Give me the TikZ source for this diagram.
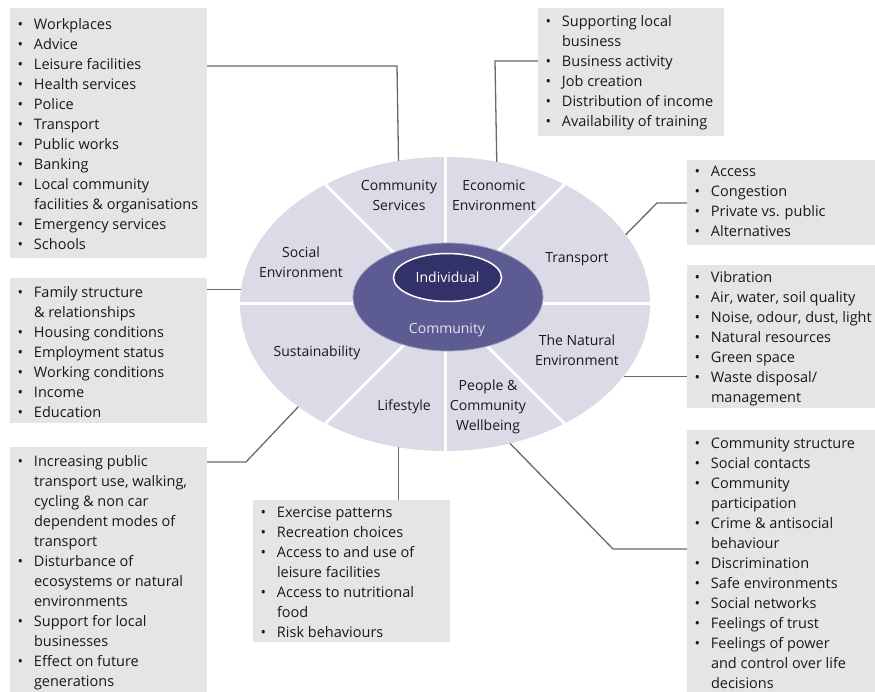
\documentclass[tikz,border=0pt]{standalone}
\usepackage{fontspec}
\setmainfont{Open Sans}
\usetikzlibrary{shapes.geometric}
\definecolor{boxgray}{RGB}{229,229,229}
\definecolor{ellc}{RGB}{219,219,231}
\definecolor{commc}{RGB}{92,92,146}
\definecolor{indc}{RGB}{50,50,104}
\definecolor{commtext}{RGB}{226,226,242}
\definecolor{connc}{RGB}{105,105,105}
\definecolor{textc}{RGB}{25,25,25}
\newcommand{\bitem}{\par\noindent\hangindent=24pt\hangafter=1\rule{0pt}{14pt}\makebox[24pt][l]{\hspace{7.5pt}\textbullet}}
\newcommand{\lbox}[4]{\makebox[#1pt][l]{\parbox[t][#2pt][t]{300pt}{\fontsize{14.5}{20}\selectfont\parskip=0pt\lineskiplimit=-20pt\lineskip=0pt\vspace*{\dimexpr#3pt-14pt\relax}#4}}}
\tikzset{
  listbox/.style={fill=boxgray, inner sep=0pt, outer sep=0pt, anchor=north west, text=textc},
  sector/.style={align=center, text=textc, font=\fontsize{14}{20}\selectfont, inner sep=0pt},
  conn/.style={draw=connc, line width=1.3pt},
}
\begin{document}
\begin{tikzpicture}[x=1pt,y=-1pt]
\useasboundingbox (0,0) rectangle (875,692);
\fill[white] (0,0) rectangle (875,692);

% central ellipses
\node[ellipse, minimum width=410pt, minimum height=294pt, fill=ellc, inner sep=0pt, outer sep=0pt] (big) at (445,304) {};
\foreach \a in {0,45,...,315} \draw[white, line width=3pt] (big.center) -- (big.\a);
\node[ellipse, minimum width=190pt, minimum height=108pt, fill=commc, draw=commc!60!white, line width=0.8pt, inner sep=0pt] (comm) at (448,297) {};
\node[ellipse, minimum width=108pt, minimum height=48pt, fill=indc, draw=white, line width=1.5pt, inner sep=0pt, text=white, font=\fontsize{14}{20}\selectfont] (ind) at (447.5,277.5) {Individual};
\node[text=commtext, font=\fontsize{14}{20}\selectfont, inner sep=0pt] (commlabel) at (447,330) {Community};

% sector labels
\node[sector] (s1) at (399,195) {Community\\Services};
\node[sector] (s2) at (494,195) {Economic\\Environment};
\node[sector] (s3) at (301,262) {Social\\Environment};
\node[sector] (s4) at (577,259) {Transport};
\node[sector] (s5) at (317,353) {Sustainability};
\node[sector] (s6) at (577,350) {The Natural\\Environment};
\node[sector] (s7) at (404,407) {Lifestyle};
\node[sector] (s8) at (488,407) {People \&\\Community\\Wellbeing};

% list boxes
\node[listbox] (A) at (10,8) {\lbox{197}{250}{21.5}{%
\bitem Workplaces
\bitem Advice
\bitem Leisure facilities
\bitem Health services
\bitem Police
\bitem Transport
\bitem Public works
\bitem Banking
\bitem Local community\\facilities \& organisations
\bitem Emergency services
\bitem Schools}};

\node[listbox] (B) at (538,8) {\lbox{186}{128}{19}{%
\bitem Supporting local\\business
\bitem Business activity
\bitem Job creation
\bitem Distribution of income
\bitem Availability of training}};

\node[listbox] (C) at (687,160) {\lbox{188}{85}{17}{%
\bitem Access
\bitem Congestion
\bitem Private vs. public
\bitem Alternatives}};

\node[listbox] (D) at (687,265) {\lbox{188}{143}{18}{%
\bitem Vibration
\bitem Air, water, soil quality
\bitem Noise, odour, dust, light
\bitem Natural resources
\bitem Green space
\bitem Waste disposal/\\management}};

\node[listbox] (E) at (687,430) {\lbox{188}{262}{18.5}{%
\bitem Community structure
\bitem Social contacts
\bitem Community\\participation
\bitem Crime \& antisocial\\behaviour
\bitem Discrimination
\bitem Safe environments
\bitem Social networks
\bitem Feelings of trust
\bitem Feelings of power\\and control over life\\decisions}};

\node[listbox] (F) at (10,278) {\lbox{197}{145}{19.5}{%
\bitem Family structure\\\& relationships
\bitem Housing conditions
\bitem Employment status
\bitem Working conditions
\bitem Income
\bitem Education}};

\node[listbox] (G) at (10,447) {\lbox{197}{245}{19.5}{%
\bitem Increasing public\\transport use, walking,\\cycling \& non car\\dependent modes of\\transport
\bitem Disturbance of\\ecosystems or natural\\environments
\bitem Support for local\\businesses
\bitem Effect on future\\generations}};

\node[listbox] (H) at (253,500) {\lbox{197}{142}{17.5}{%
\bitem Exercise patterns
\bitem Recreation choices
\bitem Access to and use of\\leisure facilities
\bitem Access to nutritional\\food
\bitem Risk behaviours}};

% connectors
\coordinate (a1) at (397,66);
\draw[conn] (A.east |- a1) -- (a1) -- (big.108.57);
\coordinate (b1) at (495,61);
\draw[conn] (B.west |- b1) -- (b1) -- (big.70.7);
\coordinate (c1) at (657,203);
\draw[conn] (big.21.6) -- (c1) -- (c1 -| C.west);
\draw[conn] (big.-22.3) -- (big.-22.3 -| D.west);
\coordinate (e1) at (613,549);
\draw[conn] (big.-65.7) -- (e1) -- (e1 -| E.west);
\draw[conn] (big.176.1) -- (big.176.1 -| F.east);
\coordinate (g1) at (246,462);
\draw[conn] (big.215.5) -- (g1) -- (g1 -| G.east);
\draw[conn] (big.-108.57) -- (big.-108.57 |- H.north);
\end{tikzpicture}
\end{document}
